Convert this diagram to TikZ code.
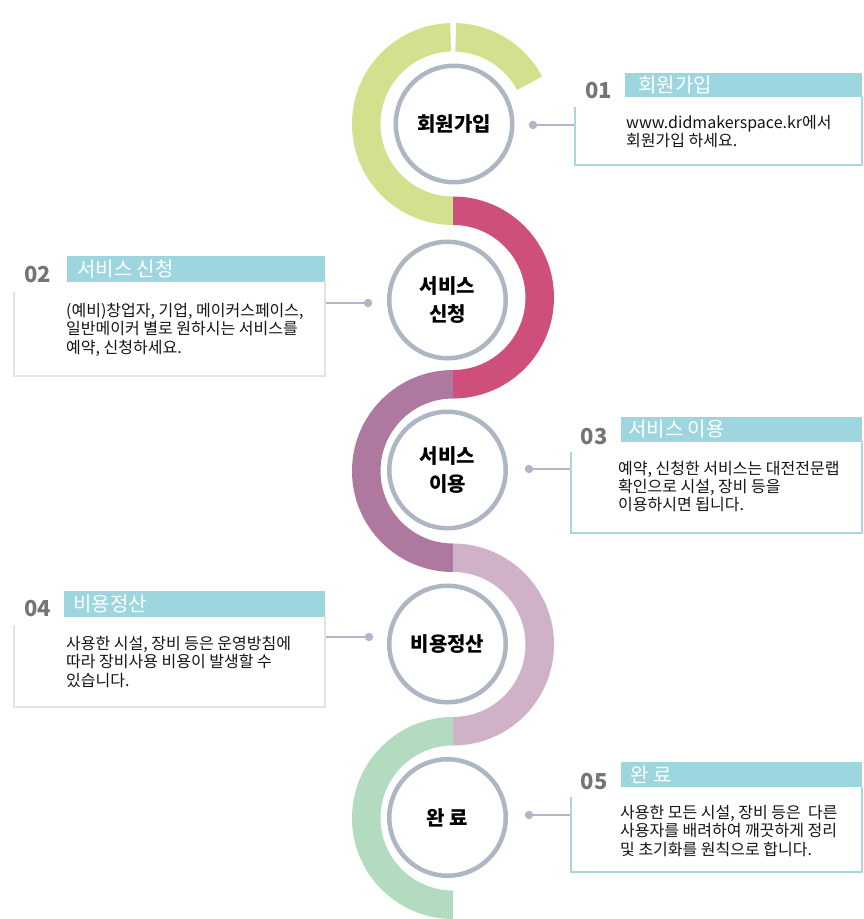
\documentclass[tikz,border=0pt]{standalone}
\usepackage{fontspec}
\setmainfont{Noto Sans CJK KR}
\usetikzlibrary{calc}
\definecolor{gA}{HTML}{D2E18D}
\definecolor{rB}{HTML}{CE4F7B}
\definecolor{pC}{HTML}{AE789F}
\definecolor{pD}{HTML}{CFB2C7}
\definecolor{gE}{HTML}{B2DBC0}
\definecolor{ring}{HTML}{AEB5C3}
\definecolor{hdr}{HTML}{9DD6DE}
\definecolor{tealline}{HTML}{A6D8DD}
\definecolor{grayline}{HTML}{E3E3E3}
\definecolor{conncol}{HTML}{B8B3C8}
\definecolor{numgray}{HTML}{757575}
\definecolor{txt}{HTML}{141414}
\newcommand\sband[5]{%
  \fill[#1] ($(#2,#3)+(#4:101)$) arc[start angle=#4,end angle=#5,radius=101]
    -- ($(#2,#3)+(#5:72.5)$) arc[start angle=#5,end angle=#4,radius=72.5] -- cycle;}
\begin{document}
\begin{tikzpicture}[x=1pt,y=-1pt,
  stepc/.style={circle, draw=ring, line width=4.5, fill=white, minimum size=116.5,
    inner sep=0, font=\bfseries\fontsize{20}{28}\selectfont, align=center, text=black},
  dotc/.style={circle, fill=conncol, minimum size=8.5, inner sep=0},
  connline/.style={draw=conncol, line width=2},
  hdrbox/.style={fill=hdr, inner sep=0, anchor=north west},
  titletxt/.style={text=white, font=\fontsize{20}{22}\selectfont, anchor=west, inner sep=0},
  numtxt/.style={text=numgray, font=\bfseries\fontsize{22}{24}\selectfont, inner sep=0},
  bodytxt/.style={text=txt, font=\fontsize{16}{18}\selectfont, anchor=base west, inner sep=0},
  tborder/.style={draw=tealline, line width=2},
  gborder/.style={draw=grayline, line width=2}]
\useasboundingbox (0,0) rectangle (863,919);
% spine bands
\sband{gA}{453}{124}{-91.6}{-270}
\sband{gA}{453}{124}{-88.2}{-28}
\sband{rB}{453}{297.5}{-90}{90}
\sband{pC}{453}{471}{-90}{-270}
\sband{pD}{453}{644.5}{-90}{90}
\sband{gE}{453}{818}{-90}{-270}
% step circles
\node[stepc] (s1) at (454,124) {회원가입};
\node[stepc] (s2) at (447.5,300) {서비스\\신청};
\node[stepc] (s3) at (447.5,470) {서비스\\이용};
\node[stepc] (s4) at (447.5,644) {비용정산};
\node[stepc] (s5) at (447.5,817.5) {완 료};
% connectors
\node[dotc] (d1) at (533,125) {};
\node[dotc] (d2) at (368,303) {};
\node[dotc] (d3) at (529,469) {};
\node[dotc] (d4) at (369,637) {};
\node[dotc] (d5) at (529,815) {};
\coordinate (b1) at (575,125);
\coordinate (b2) at (325,303);
\coordinate (b3) at (571,469);
\coordinate (b4) at (325,637);
\coordinate (b5) at (571,815);
\draw[connline] (d1) -- (b1);
\draw[connline] (d2) -- (b2);
\draw[connline] (d3) -- (b3);
\draw[connline] (d4) -- (b4);
\draw[connline] (d5) -- (b5);
% box 1
\draw[tborder] (575,107) -- (575,165) -- (862,165) -- (862,97);
\node[hdrbox, minimum width=237, minimum height=24] (h1) at (625,73) {};
\node[titletxt] (t1) at (638,85) {회원가입};
\node[numtxt] (n1) at (598.5,91) {01};
\node[bodytxt] (l1a) at (626,128.5) {www.didmakerspace.kr에서};
\node[bodytxt] (l1b) at (626,146.5) {회원가입 하세요.};
% box 2
\draw[gborder] (14,292) -- (14,376) -- (325,376) -- (325,282);
\node[hdrbox, minimum width=258, minimum height=26] (h2) at (67,256) {};
\node[titletxt] (t2) at (77,269) {서비스 신청};
\node[numtxt] (n2) at (37.5,275) {02};
\node[bodytxt] (l2a) at (66,316) {(예비)창업자, 기업, 메이커스페이스,};
\node[bodytxt] (l2b) at (66,334.5) {일반메이커 별로 원하시는 서비스를};
\node[bodytxt] (l2c) at (66,353) {예약, 신청하세요.};
% box 3
\draw[tborder] (571,452) -- (571,533) -- (862,533) -- (862,442);
\node[hdrbox, minimum width=241, minimum height=25] (h3) at (621,417) {};
\node[titletxt] (t3) at (628,429.5) {서비스 이용};
\node[numtxt] (n3) at (594,436.5) {03};
\node[bodytxt] (l3a) at (618,474) {예약, 신청한 서비스는 대전전문랩};
\node[bodytxt] (l3b) at (618,492) {확인으로 시설, 장비 등을};
\node[bodytxt] (l3c) at (618,510.5) {이용하시면 됩니다.};
% box 4
\draw[gborder] (14,625) -- (14,707) -- (325,707) -- (325,617);
\node[hdrbox, minimum width=261, minimum height=26] (h4) at (64,591) {};
\node[titletxt] (t4) at (73,604) {비용정산};
\node[numtxt] (n4) at (37.5,609) {04};
\node[bodytxt] (l4a) at (66,649) {사용한 시설, 장비 등은 운영방침에};
\node[bodytxt] (l4b) at (66,667.5) {따라 장비사용 비용이 발생할 수};
\node[bodytxt] (l4c) at (66,686) {있습니다.};
% box 5
\draw[tborder] (571,797) -- (571,872) -- (862,872) -- (862,787);
\node[hdrbox, minimum width=241, minimum height=25] (h5) at (621,762) {};
\node[titletxt] (t5) at (630,774.5) {완 료};
\node[numtxt] (n5) at (594,781.5) {05};
\node[bodytxt] (l5a) at (620,818) {사용한 모든 시설, 장비 등은\ \ 다른};
\node[bodytxt] (l5b) at (620,836.5) {사용자를 배려하여 깨끗하게 정리};
\node[bodytxt] (l5c) at (620,855) {및 초기화를 원칙으로 합니다.};
\end{tikzpicture}
\end{document}
